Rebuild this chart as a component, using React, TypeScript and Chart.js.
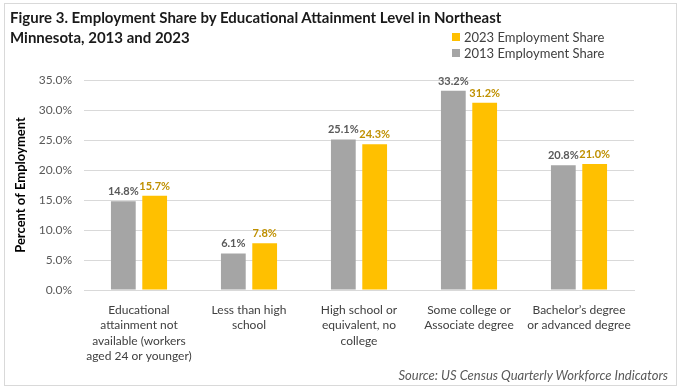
import React, { useEffect, useRef } from "react";
import { Chart, registerables } from "chart.js";

Chart.register(...registerables);

const categories: string[][] = [
  ["Educational", "attainment not", "available (workers", "aged 24 or younger)"],
  ["Less than high", "school"],
  ["High school or", "equivalent, no", "college"],
  ["Some college or", "Associate degree"],
  ["Bachelor\u2019s degree", "or advanced degree"],
];
const share2013 = [14.8, 6.1, 25.1, 33.2, 20.8];
const share2023 = [15.7, 7.8, 24.3, 31.2, 21.0];
const seriesNames = ["2013 Employment Share", "2023 Employment Share"];
const yMin = 0;
const yMax = 35;
const yStep = 5;

const GRAY = "#A5A5A5";
const GOLD = "#FFC000";
const FONT = "Lato, 'Open Sans', sans-serif";

const valueLabels = {
  id: "valueLabels",
  afterDatasetsDraw(chart: any) {
    const ctx = chart.ctx;
    chart.data.datasets.forEach((ds: any, i: number) => {
      const meta = chart.getDatasetMeta(i);
      meta.data.forEach((bar: any, j: number) => {
        ctx.save();
        ctx.font = `bold 11px ${FONT}`;
        ctx.fillStyle = ds.labelColor;
        ctx.textAlign = "center";
        ctx.textBaseline = "bottom";
        ctx.fillText(Number(ds.data[j]).toFixed(1) + "%", bar.x, bar.y - 4);
        ctx.restore();
      });
    });
  },
};

export default function App() {
  const ref = useRef<HTMLCanvasElement | null>(null);
  useEffect(() => {
    if (!ref.current) return;
    const chart = new Chart(ref.current, {
      type: "bar",
      data: {
        labels: categories,
        datasets: [
          {
            label: seriesNames[0],
            data: share2013,
            backgroundColor: GRAY,
            categoryPercentage: 0.57,
            barPercentage: 0.79,
            labelColor: "#595959",
          } as any,
          {
            label: seriesNames[1],
            data: share2023,
            backgroundColor: GOLD,
            categoryPercentage: 0.57,
            barPercentage: 0.79,
            labelColor: "#BF9000",
          } as any,
        ],
      },
      options: {
        responsive: false,
        animation: false,
        layout: { padding: { left: 9, right: 47, top: 80, bottom: 0 } },
        plugins: {
          legend: { display: false },
          title: { display: false },
          tooltip: { enabled: false },
        },
        scales: {
          x: {
            grid: { display: false },
            border: { color: "#D9D9D9", width: 1 },
            ticks: {
              color: "#404040",
              font: { family: FONT, size: 12, lineHeight: 1.3 },
              maxRotation: 0,
              minRotation: 0,
              autoSkip: false,
              padding: 4,
            },
            afterFit: (s: any) => {
              s.height = 101;
            },
          },
          y: {
            min: yMin,
            max: yMax,
            ticks: {
              stepSize: yStep,
              color: "#595959",
              font: { family: FONT, size: 12 },
              padding: 12,
              callback: (v: any) => Number(v).toFixed(1) + "%",
            },
            grid: { color: "#D9D9D9", drawTicks: false },
            border: { display: false },
            title: {
              display: true,
              text: "Percent of Employment",
              color: "#000000",
              font: { family: FONT, size: 13, weight: "bold" },
              padding: { top: 4, bottom: 4 },
            },
            afterFit: (s: any) => {
              s.width = 75;
            },
          },
        },
      },
      plugins: [valueLabels],
    });
    return () => chart.destroy();
  }, []);

  return (
    <div
      style={{
        position: "absolute",
        left: 0,
        top: 0,
        width: 681,
        height: 391,
        background: "#fff",
        fontFamily: FONT,
        overflow: "hidden",
      }}
    >
      <canvas
        ref={ref}
        width={681}
        height={391}
        style={{ position: "absolute", left: 0, top: 0, width: 681, height: 391 }}
      />
      <div
        style={{
          position: "absolute",
          left: 4,
          top: 3,
          width: 671,
          height: 381,
          border: "1px solid #D9D9D9",
          pointerEvents: "none",
        }}
      />
      <div
        style={{
          position: "absolute",
          left: 10,
          top: 7,
          fontSize: 15,
          fontWeight: "bold",
          lineHeight: "20px",
          color: "#1a1a1a",
          whiteSpace: "nowrap",
        }}
      >
        <div>Figure 3. Employment Share by Educational Attainment Level in Northeast</div>
        <div>Minnesota, 2013 and 2023</div>
      </div>
      <div
        style={{
          position: "absolute",
          left: 452,
          top: 29,
          fontSize: 13,
          lineHeight: "16px",
          color: "#404040",
        }}
      >
        {[
          { name: seriesNames[1], color: GOLD },
          { name: seriesNames[0], color: GRAY },
        ].map((it) => (
          <div key={it.name} style={{ display: "flex", alignItems: "center" }}>
            <span
              style={{
                display: "inline-block",
                width: 8,
                height: 8,
                background: it.color,
                marginRight: 4,
              }}
            />
            <span>{it.name}</span>
          </div>
        ))}
      </div>
      <div
        style={{
          position: "absolute",
          right: 13,
          top: 366,
          fontSize: 13,
          fontStyle: "italic",
          lineHeight: "18px",
          color: "#595959",
          whiteSpace: "nowrap",
        }}
      >
        Source: US Census Quarterly Workforce Indicators
      </div>
    </div>
  );
}
